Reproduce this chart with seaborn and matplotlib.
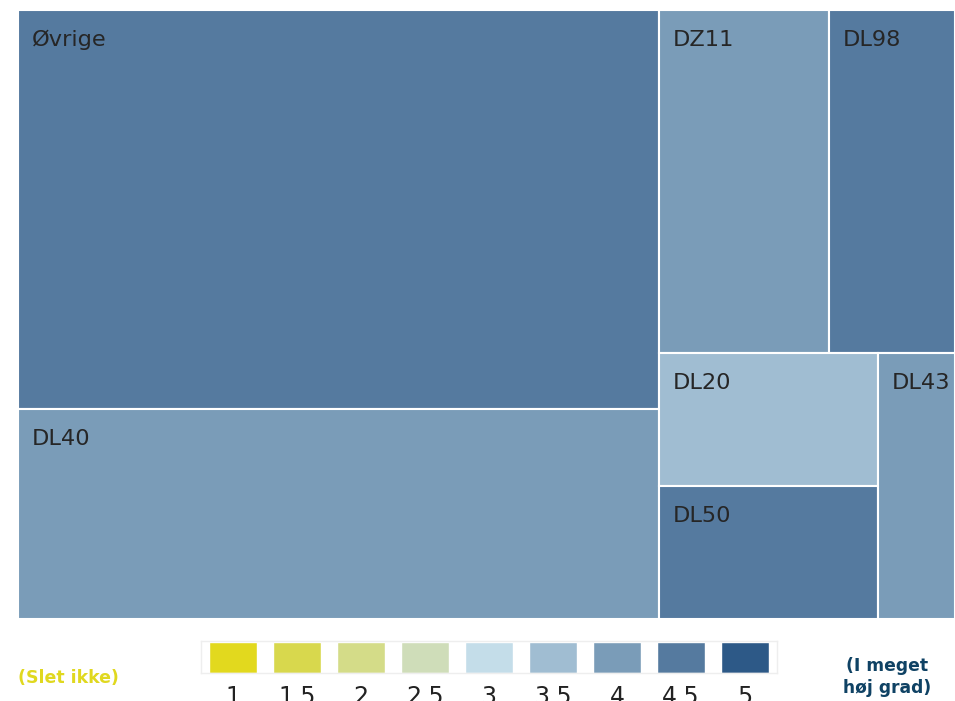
import numpy as np
import matplotlib
matplotlib.use('Agg')
import matplotlib.pyplot as plt
from matplotlib.patches import Rectangle
from matplotlib.colors import ListedColormap, BoundaryNorm
import seaborn as sns

# data: andel (areal) og score (farve) pr. gruppe
labels = ['Øvrige', 'DL40', 'DZ11', 'DL98', 'DL20', 'DL50', 'DL43']
sizes = [44.8, 23.6, 10.2, 7.6, 5.1, 5.1, 3.6]
scores = [4.5, 4.0, 4.0, 4.5, 3.5, 4.5, 4.0]

# farveskala 1-5
scale_values = [1, 1.5, 2, 2.5, 3, 3.5, 4, 4.5, 5]
scale_colors = ['#e2d91e', '#d8d84d', '#d4dc88', '#cfddb9', '#c4dde9',
                '#a0bdd2', '#7a9cb8', '#557a9f', '#2d5987']
low_label = '(Slet ikke)'
high_label = '(I meget\nhøj grad)'

sns.set_style('white')
plt.rcParams['font.family'] = ['DejaVu Sans']

cmap = ListedColormap(scale_colors)
norm = BoundaryNorm(np.arange(0.75, 5.5, 0.5), cmap.N)


def squarify(values, x0, y0, x1, y1, ratio=(1 + 5 ** 0.5) / 2):
    # d3-style squarified layout (y0 is the top)
    rects = []
    total = float(sum(values))
    i0 = 0
    n = len(values)
    while i0 < n:
        dx, dy = x1 - x0, y1 - y0
        i1 = i0
        s = values[i1]
        i1 += 1
        vmin = vmax = s
        alpha = max(dy / dx, dx / dy) / (total * ratio)
        beta = s * s * alpha
        min_ratio = max(vmax / beta, beta / vmin)
        while i1 < n:
            v = values[i1]
            s += v
            vmin, vmax = min(vmin, v), max(vmax, v)
            beta = s * s * alpha
            new_ratio = max(vmax / beta, beta / vmin)
            if new_ratio > min_ratio:
                s -= v
                break
            min_ratio = new_ratio
            i1 += 1
        row = values[i0:i1]
        if dx < dy:
            h = dy * s / total
            cx = x0
            for v in row:
                w = dx * v / s
                rects.append((cx, y0, w, h))
                cx += w
            y0 += h
        else:
            w = dx * s / total
            cy = y0
            for v in row:
                h = dy * v / s
                rects.append((x0, cy, w, h))
                cy += h
            x0 += w
        total -= s
        i0 = i1
    return rects


W, H = 955, 701
fig = plt.figure(figsize=(W / 100, H / 100), dpi=100)

# treemap
ax = fig.add_axes([18 / W, (H - 619) / H, 937 / W, 609 / H])
ax.set_xlim(0, 937)
ax.set_ylim(609, 0)
ax.axis('off')

for (x, y, w, h), lab, sc in zip(squarify(sizes, 0, 0, 937, 609), labels, scores):
    ax.add_patch(Rectangle((x, y), w, h, facecolor=cmap(norm(sc)),
                           edgecolor='white', linewidth=1.5))
    ax.text(x + 14, y + 30, lab, fontsize=16.2, color='#262626',
            ha='left', va='center')

# farveforklaring
lax = fig.add_axes([201 / W, (H - 673) / H, 576 / W, 32 / H])
pos = np.arange(len(scale_values))
sns.barplot(x=pos, y=[1] * len(pos), hue=pos, palette=scale_colors,
            width=0.75, legend=False, ax=lax, native_scale=True,
            saturation=1)
lax.set_xlim(-0.5, len(pos) - 0.5)
lax.set_ylim(0, 1.03)
lax.set_yticks([])
lax.set_xlabel('')
lax.set_ylabel('')
lax.set_xticks(pos)
lax.set_xticklabels([f'{v:g}' for v in scale_values],
                    family=['Liberation Sans Narrow', 'DejaVu Sans'],
                    fontsize=17, color='#222222')
lax.set_xticks(np.arange(-0.5, len(pos)), minor=True)
lax.tick_params(axis='x', which='major', length=0, pad=9)
lax.tick_params(axis='x', which='minor', length=7, width=1,
                color='#e8e8e8', direction='out')
for sp in lax.spines.values():
    sp.set_color('#eeeeee')
    sp.set_linewidth(1)

fig.text(18 / W, (H - 678) / H, low_label, fontsize=12.5, fontweight='bold',
         color='#e0d81f', ha='left', va='center')
fig.text(887 / W, (H - 677) / H, high_label, fontsize=12.3, fontweight='bold',
         color='#0f4264', ha='center', va='center', multialignment='center',
         linespacing=1.25)

fig.savefig('out.png', dpi=100)
